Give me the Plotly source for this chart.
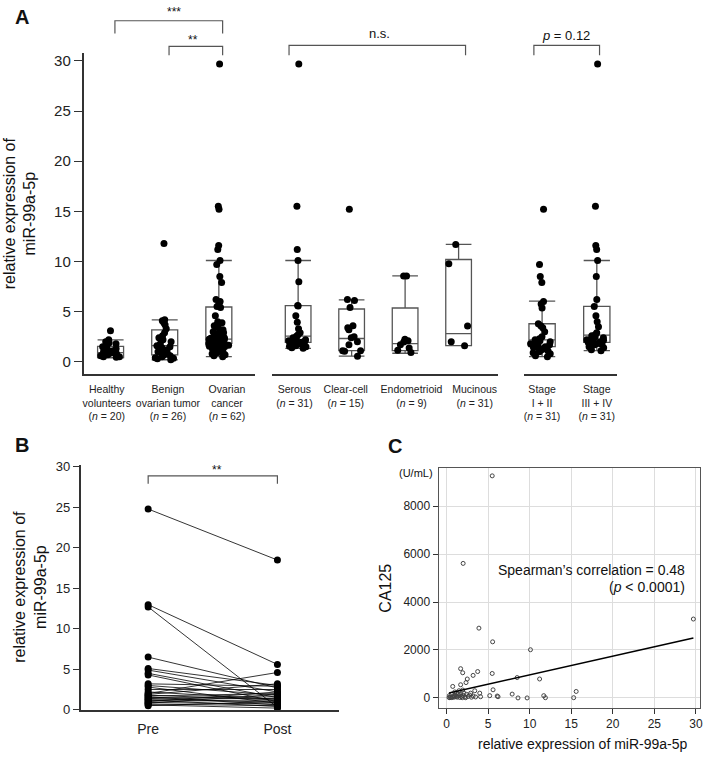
import plotly.graph_objects as go

# ---------------- DATA ----------------
# Panel A: relative expression of miR-99a-5p per group
healthy = [3.1, 2.2, 2.0, 1.9, 1.8, 1.6, 1.5, 1.3, 1.2, 1.1, 1.0, 0.95, 0.9, 0.85, 0.8, 0.7, 0.6, 0.5, 0.5, 0.45]
benign = [11.8, 4.2, 4.1, 3.9, 3.7, 3.3, 2.9, 2.6, 2.4, 2.2, 2.0, 1.8, 1.6, 1.5, 1.4, 1.2, 1.0, 0.9, 0.8, 0.7,
          0.6, 0.5, 0.4, 0.35, 0.3, 0.2]
ovarian = [29.7, 15.5, 15.2, 11.6, 11.2, 10.1, 9.7, 8.5, 7.9, 6.2, 6.0, 5.7, 5.5, 5.4, 4.6, 4.0, 3.9, 3.7, 3.6, 3.5,
           3.4, 3.2, 3.0, 2.9, 2.8, 2.7, 2.6, 2.5, 2.45, 2.4, 2.35, 2.3, 2.25, 2.2, 2.15, 2.1, 2.05, 2.0, 1.95, 1.9,
           1.88, 1.85, 1.8, 1.78, 1.75, 1.7, 1.65, 1.6, 1.55, 1.5, 1.45, 1.4, 1.3, 1.2, 1.1, 1.05, 1.0, 0.9, 0.8, 0.7,
           0.6, 0.5]
serous = [29.7, 15.5, 11.2, 10.1, 7.97, 5.6, 5.55, 4.6, 3.95, 3.3, 2.9, 2.7, 2.55, 2.4, 2.3, 2.2, 2.15, 2.1, 2.05,
          2.0, 1.95, 1.9, 1.85, 1.8, 1.75, 1.7, 1.6, 1.55, 1.5, 1.4, 1.34]
clear_cell = [15.2, 6.2, 6.1, 5.4, 3.6, 3.4, 3.2, 2.5, 2.4, 2.0, 1.7, 1.1, 1.1, 1.05, 0.55]
endometrioid = [8.56, 8.56, 2.25, 2.1, 1.96, 1.7, 1.37, 1.14, 0.92]
mucinous = [11.7, 9.77, 3.56, 2.0, 1.6]
stage_12 = [15.2, 9.7, 8.5, 7.9, 6.0, 5.75, 5.36, 3.8, 3.6, 3.4, 3.0, 2.5, 2.3, 2.2, 2.1, 2.0, 1.9, 1.8, 1.7, 1.6,
            1.5, 1.45, 1.4, 1.3, 1.2, 1.1, 1.0, 0.9, 0.8, 0.6, 0.5]
stage_34 = [29.7, 15.5, 11.6, 11.2, 10.1, 8.5, 6.2, 5.5, 4.6, 4.0, 3.5, 2.9, 2.7, 2.6, 2.5, 2.4, 2.3, 2.2, 2.15,
            2.1, 2.0, 1.95, 1.9, 1.85, 1.8, 1.75, 1.7, 1.5, 1.4, 1.2, 1.1]

group_values = [healthy, benign, ovarian, serous, clear_cell, endometrioid, mucinous, stage_12, stage_34]
group_labels = [
    "Healthy<br>volunteers<br>(<i>n</i> = 20)",
    "Benign<br>ovarian tumor<br>(<i>n</i> = 26)",
    "Ovarian<br>cancer<br>(<i>n</i> = 62)",
    "Serous<br>(<i>n</i> = 31)",
    "Clear-cell<br>(<i>n</i> = 15)",
    "Endometrioid<br>(<i>n</i> = 9)",
    "Mucinous<br>(<i>n</i> = 31)",
    "Stage<br>I + II<br>(<i>n</i> = 31)",
    "Stage<br>III + IV<br>(<i>n</i> = 31)",
]
# box statistics (lower whisker, q1, median, q3, upper whisker)
box_low = [0.38, 0.2, 0.52, 1.34, 0.56, 0.85, 1.6, 0.52, 1.11]
box_q1 = [0.42, 0.69, 1.83, 1.93, 1.11, 1.11, 1.6, 1.5, 1.93]
box_med = [0.91, 1.6, 2.25, 2.55, 2.32, 1.8, 2.81, 2.19, 2.65]
box_q3 = [1.54, 3.17, 5.46, 5.59, 5.26, 5.36, 10.2, 3.79, 5.52]
box_high = [2.19, 4.18, 10.1, 10.1, 6.18, 8.56, 11.7, 6.05, 10.1]
a_ticks = [0, 5, 10, 15, 20, 25, 30]

# Panel B: paired pre / post
pre_vals = [24.8, 12.98, 12.7, 6.5, 5.1, 4.9, 4.5, 4.3, 3.2, 3.0, 2.8, 2.5, 2.2, 2.0, 1.9, 1.8, 1.7, 1.6, 1.5,
            1.4, 1.3, 1.2, 1.1, 1.0, 0.9, 0.8, 0.7, 0.6, 0.5]
post_vals = [18.5, 5.6, 0.3, 2.7, 3.0, 2.2, 1.5, 1.0, 2.9, 1.8, 0.8, 2.5, 1.3, 4.6, 3.2, 1.2, 2.0, 0.6, 1.6,
             0.9, 1.4, 0.4, 1.1, 2.2, 0.7, 1.9, 0.5, 0.2, 1.0]
b_categories = ["Pre", "Post"]

# Panel C: CA125 vs miR-99a-5p
ca_x = [5.5, 2.0, 29.7, 3.9, 5.55, 10.1, 1.7, 1.95, 3.75, 3.2, 5.5, 2.5, 2.35, 1.7, 0.75, 11.2, 8.5, 15.6, 5.6,
        3.4, 1.95, 7.9, 11.7, 5.2, 6.1, 9.7, 8.6, 15.3, 11.9, 6.2, 4.1, 4.0,
        0.3, 0.4, 0.5, 0.6, 0.7, 0.8, 0.9, 1.0, 1.0, 1.1, 1.2, 1.3, 1.4, 1.5, 1.6, 1.7, 1.8, 1.9, 2.0, 2.1,
        2.2, 2.4, 2.6, 2.8, 3.0, 3.2, 3.5, 2.3, 1.5, 0.6, 2.9, 1.2, 0.35]
ca_y = [9260, 5610, 3290, 2910, 2340, 2010, 1220, 1050, 1100, 940, 1020, 790, 640, 550, 480, 790, 850, 270, 340,
        300, 330, 160, 95, 95, 80, 0, 0, 10, 10, 50, 50, 200,
        20, 10, 30, 15, 50, 25, 80, 40, 250, 120, 60, 30, 180, 90, 20, 140, 60, 10, 100, 200,
        40, 150, 60, 120, 30, 80, 40, 10, 300, 150, 200, 200, 100]
fit_x = [0.3, 29.7]
fit_y = [209, 2500]

# ---------------- LAYOUT HELPERS ----------------
W, H = 709, 760
FONT = "Arial, Liberation Sans, sans-serif"


def fx(p):
    return p / W


def fy(p):
    return 1 - p / H


fig = go.Figure()

panel_axis = ["x", "x", "x", "x2", "x2", "x2", "x2", "x3", "x3"]
panel_pos = [0, 1, 2, 0, 1, 2, 3, 0, 1]
# label centres (slightly spread compared to the boxes, as in the original)
label_pos = [-0.07, 1.06, 2.15, -0.07, 0.89, 2.12, 3.30, 0.0, 1.0]

for i, vals in enumerate(group_values):
    fig.add_trace(go.Box(
        x=[panel_pos[i]], q1=[box_q1[i]], median=[box_med[i]], q3=[box_q3[i]],
        lowerfence=[box_low[i]], upperfence=[box_high[i]],
        xaxis=panel_axis[i], yaxis="y", width=0.48, whiskerwidth=1,
        fillcolor="rgba(0,0,0,0)", line=dict(color="#555555", width=1.3),
        boxpoints=False, hoverinfo="skip"))
for i, vals in enumerate(group_values):
    fig.add_trace(go.Box(
        x=[panel_pos[i]] * len(vals), y=vals, xaxis=panel_axis[i], yaxis="y",
        width=0.48, boxpoints="all", jitter=0.9, pointpos=0,
        fillcolor="rgba(0,0,0,0)", line=dict(color="rgba(0,0,0,0)", width=0),
        marker=dict(color="black", size=7)))

# Panel B lines
bx, by = [], []
for a, b in zip(pre_vals, post_vals):
    bx += [0, 1, None]
    by += [a, b, None]
fig.add_trace(go.Scatter(x=bx, y=by, mode="lines+markers", xaxis="x4", yaxis="y2",
                         line=dict(color="black", width=0.8),
                         marker=dict(color="black", size=7), cliponaxis=False))

# Panel C
fig.add_trace(go.Scatter(x=ca_x, y=ca_y, mode="markers", xaxis="x5", yaxis="y3", cliponaxis=False,
                         marker=dict(symbol="circle-open", size=4, color="#444444",
                                     line=dict(width=1, color="#444444"))))
fig.add_trace(go.Scatter(x=fit_x, y=fit_y, mode="lines", xaxis="x5", yaxis="y3",
                         line=dict(color="black", width=1.5)))

axline = dict(showline=True, linecolor="#333333", linewidth=1.5, showgrid=False, zeroline=False)
xa_common = dict(axline, ticks="outside", ticklen=5, tickcolor="rgba(0,0,0,0)", tickangle=0,
                 tickfont=dict(size=10.5, color="#222"), fixedrange=True)

fig.update_layout(
    width=W, height=H, autosize=False,
    margin=dict(l=0, r=0, t=0, b=0),
    paper_bgcolor="white", plot_bgcolor="white",
    showlegend=False, boxmode="overlay",
    font=dict(family=FONT, color="#111"),
    xaxis=dict(xa_common, domain=[fx(83), fx(255)], range=[-0.5, 2.66], anchor="y",
               tickvals=label_pos[0:3], ticktext=group_labels[0:3]),
    xaxis2=dict(xa_common, domain=[fx(273), fx(500)], range=[-0.48, 3.74], anchor="y",
                tickvals=label_pos[3:7], ticktext=group_labels[3:7]),
    xaxis3=dict(xa_common, domain=[fx(526), fx(619)], range=[-0.33, 1.36], anchor="y",
                tickvals=label_pos[7:9], ticktext=group_labels[7:9]),
    yaxis=dict(axline, domain=[fy(375), fy(49)], range=[-1.18, 30.78], anchor="x",
               tickvals=a_ticks, ticks="outside", ticklen=8, tickwidth=1.3, tickcolor="#333",
               tickfont=dict(size=15, color="#222")),
    xaxis4=dict(xa_common, domain=[fx(80), fx(340)], range=[-0.523, 1.477], anchor="y2",
                ticklen=6, tickvals=[0, 1], ticktext=b_categories, tickfont=dict(size=14, color="#222")),
    yaxis2=dict(axline, domain=[fy(717), fy(468)], range=[0, 30.24], anchor="x4",
                tickvals=a_ticks, ticks="outside", ticklen=6, tickwidth=1.3, tickcolor="#333",
                tickfont=dict(size=13, color="#222")),
    xaxis5=dict(domain=[fx(440), fx(703)], range=[-0.96, 30.5], anchor="y3",
                showline=True, mirror=True, linecolor="#555", linewidth=1,
                showgrid=True, gridcolor="#dddddd", gridwidth=1, zeroline=False, tickangle=0,
                tickvals=[0, 5, 10, 15, 20, 25, 30], ticks="outside", ticklen=5, tickcolor="#333",
                tickfont=dict(size=12, color="#222")),
    yaxis3=dict(domain=[fy(715), fy(471)], range=[-410, 9590], anchor="x5",
                showline=True, mirror=True, linecolor="#555", linewidth=1,
                showgrid=True, gridcolor="#dddddd", gridwidth=1, zeroline=False,
                tickvals=[0, 2000, 4000, 6000, 8000], ticks="outside", ticklen=5, tickcolor="#333",
                tickfont=dict(size=12, color="#222")),
)


def bracket(xref, x0, x1, top_px, bottom_px):
    fig.add_shape(type="path", xref=xref, yref="paper",
                  path=f"M {x0},{fy(bottom_px)} L {x0},{fy(top_px)} L {x1},{fy(top_px)} L {x1},{fy(bottom_px)}",
                  line=dict(color="#555", width=1.2))


bracket("x", panel_pos[0] + 0.08, panel_pos[2] + 0.07, 16, 29)
bracket("x", panel_pos[1] + 0.08, panel_pos[2] + 0.07, 42, 51)
bracket("x2", panel_pos[3] - 0.17, panel_pos[6] + 0.13, 41, 51)
bracket("x3", panel_pos[7] - 0.15, panel_pos[8] + 0.05, 41, 51)
bracket("x4", 0, 1, 479, 487)


def note(text, x, y, size, xanchor="center", bold=False, angle=0):
    fig.add_annotation(text=f"<b>{text}</b>" if bold else text, x=fx(x), y=fy(y),
                       xref="paper", yref="paper", showarrow=False, xanchor=xanchor,
                       yanchor="middle", textangle=angle, font=dict(size=size, family=FONT, color="#111"))


note("A", 21, 12, 20, bold=True)
note("B", 21, 448, 20, bold=True)
note("C", 396, 449, 20, bold=True)
note("***", 174, 7, 12)
note("**", 193, 36, 12)
note("n.s.", 381, 29, 13)
note("<i>p</i> = 0.12", 568, 31, 13)
note("**", 217, 473, 12)
note("relative expression of<br>miR-99a-5p", 19, 212, 16, angle=-90)
note("relative expression of<br>miR-99a-5p", 29, 592, 16, angle=-90)
note("CA125", 387, 593, 16, angle=-90)
note("(U/mL)", 417, 476, 11)
note("relative expression of miR-99a-5p", 585, 752, 14)
note("Spearman’s correlation = 0.48", 690, 575, 14, xanchor="right")
note("(<i>p</i> &lt; 0.0001)", 690, 592, 14, xanchor="right")

fig.write_html("out.html", config={"displayModeBar": False},
               post_script="document.body.style.margin='0px';document.body.style.overflow='hidden';")
